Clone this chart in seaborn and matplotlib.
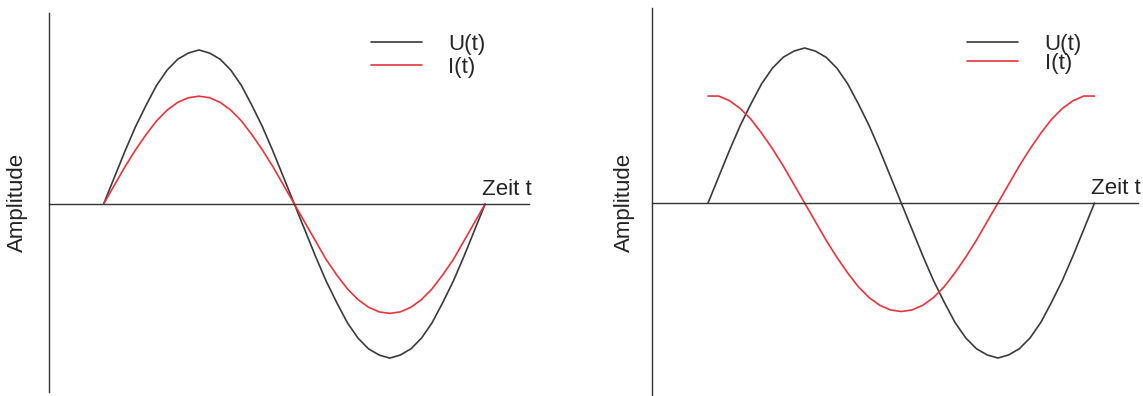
import numpy as np
import matplotlib
matplotlib.use("Agg")
import matplotlib.pyplot as plt
import seaborn as sns

# ------------------------------------------------------------
# Data (one point every 1/36 period)
# ------------------------------------------------------------
t_steps = list(range(37))

# left panel: voltage and current in phase
u_left = [0.00, 0.17, 0.34, 0.50, 0.64, 0.77, 0.87, 0.94, 0.98, 1.00, 0.98, 0.94, 0.87,
          0.77, 0.64, 0.50, 0.34, 0.17, 0.00,
          -0.17, -0.34, -0.50, -0.64, -0.77, -0.87, -0.94, -0.98, -1.00, -0.98, -0.94,
          -0.87, -0.77, -0.64, -0.50, -0.34, -0.17, 0.00]
i_left = [0.00, 0.12, 0.24, 0.35, 0.45, 0.54, 0.61, 0.66, 0.69, 0.70, 0.69, 0.66, 0.61,
          0.54, 0.45, 0.35, 0.24, 0.12, 0.00,
          -0.12, -0.24, -0.36, -0.46, -0.55, -0.62, -0.67, -0.70, -0.71, -0.70, -0.67,
          -0.62, -0.55, -0.46, -0.36, -0.24, -0.12, 0.00]

# right panel: current leads by a quarter period
u_right = list(u_left)
i_right = [0.69, 0.69, 0.66, 0.61, 0.54, 0.45, 0.35, 0.24, 0.12, 0.00,
           -0.12, -0.24, -0.35, -0.45, -0.54, -0.61, -0.66, -0.69, -0.70,
           -0.69, -0.66, -0.61, -0.54, -0.45, -0.35, -0.24, -0.12, 0.00,
           0.12, 0.24, 0.35, 0.45, 0.54, 0.61, 0.66, 0.69, 0.69]

labels = ["U(t)", "I(t)"]
col_u = "#3a3a3a"
col_i = "#e8333c"

sns.set_style("white")
plt.rcParams["font.family"] = ["Liberation Sans", "DejaVu Sans"]

fig = plt.figure(figsize=(11.43, 3.96), dpi=100)

# axes placement in figure fraction (pixels / size)
ax_l = fig.add_axes([49 / 1143, 4 / 396, 480 / 1143, 379 / 396])
ax_r = fig.add_axes([652 / 1143, 0.0, 486 / 1143, 388 / 396])

panels = [
    (ax_l, u_left, i_left, (-5.15, 40.14), (-1.22, 1.24), 15, 0.06, (0.67, 0.944)),
    (ax_r, u_right, i_right, (-5.22, 40.05), (-1.245, 1.258), 12, -0.08, (0.648, 0.934)),
]

for ax, u, i, xl, yl, lp, lsp, leg_pos in panels:
    sns.lineplot(x=t_steps, y=u, ax=ax, color=col_u, lw=1.2, label=labels[0])
    sns.lineplot(x=t_steps, y=i, ax=ax, color=col_i, lw=1.2, label=labels[1])
    ax.set_xlim(*xl)
    ax.set_ylim(*yl)
    ax.set_xticks([])
    ax.set_yticks([])
    for s in ["top", "right"]:
        ax.spines[s].set_visible(False)
    ax.spines["bottom"].set_position(("data", 0))
    for s in ["left", "bottom"]:
        ax.spines[s].set_color("#333333")
        ax.spines[s].set_linewidth(1.0)
    ax.set_facecolor("none")
    ax.set_ylabel("Amplitude", fontsize=16, labelpad=lp, color="#222222")
    ax.set_xlabel("")
    ax.annotate("Zeit t", xy=(1, 0), xycoords=("axes fraction", "data"),
                xytext=(2, 3), textcoords="offset points",
                ha="right", va="bottom", fontsize=16, color="#222222")
    ax.legend(loc="upper left", bbox_to_anchor=leg_pos, frameon=False,
              fontsize=16, handlelength=2.3, handletextpad=1.2,
              labelspacing=lsp, borderpad=0, borderaxespad=0)

fig.savefig("out.png", dpi=100, facecolor="white")
